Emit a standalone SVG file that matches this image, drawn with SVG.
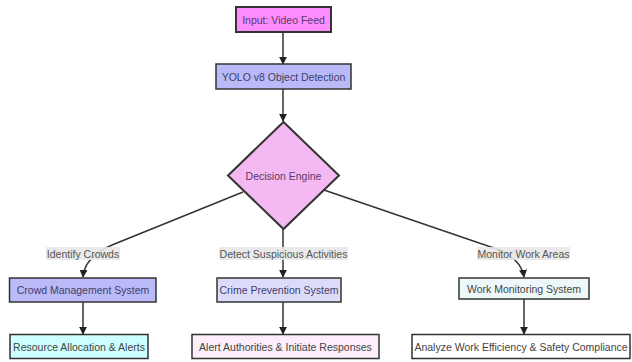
<svg xmlns="http://www.w3.org/2000/svg" width="632" height="362" viewBox="0 0 632 362">
<style>
  .box { stroke: #333; stroke-width: 1.5; }
  .thick { stroke: #333; stroke-width: 2; }
  .t { font-family: "Liberation Sans", Arial, sans-serif; font-size: 10.5px; text-anchor: middle; dominant-baseline: central; fill: #444; }
  .tp { fill: #5a3a66; }
  .tb { fill: #3f3f6a; }
  .lbl { fill: #e8e8e8; opacity: 0.9; }
  .lt { fill: #555; }
  .edge { fill: none; stroke: #333; stroke-width: 1.5; }
</style>
<defs>
  <marker id="arr" viewBox="0 0 10 10" refX="9" refY="5" markerWidth="8" markerHeight="8" markerUnits="userSpaceOnUse" orient="auto">
    <path d="M0,0 L10,5 L0,10 z" fill="#222"/>
  </marker>
</defs>
<rect width="632" height="362" fill="#fff"/>
<g id="connectors">
  <path class="edge" d="M283,32 L283,64" marker-end="url(#arr)"/>
  <path class="edge" d="M283,89 L283,121" marker-end="url(#arr)"/>
  <path class="edge" d="M243,192 L112,245 C96,252 84,262 83,277" marker-end="url(#arr)"/>
  <path class="edge" d="M283,229 L283,277" marker-end="url(#arr)"/>
  <path class="edge" d="M324,190 L488,246 C508,252 522,262 524,277" marker-end="url(#arr)"/>
  <path class="edge" d="M83,302 L83,334" marker-end="url(#arr)"/>
  <path class="edge" d="M283,302 L283,334" marker-end="url(#arr)"/>
  <path class="edge" d="M524,299 L524,334" marker-end="url(#arr)"/>
  <g id="edge-labels">
    <rect class="lbl" x="46" y="247" width="74" height="13"/>
    <text class="t lt" x="83" y="253.5">Identify Crowds</text>
    <rect class="lbl" x="219" y="247" width="129" height="13"/>
    <text class="t lt" x="283.5" y="253.5">Detect Suspicious Activities</text>
    <rect class="lbl" x="477" y="247" width="93" height="13"/>
    <text class="t lt" x="523.5" y="253.5">Monitor Work Areas</text>
  </g>
</g>
<g id="input">
  <rect class="thick" x="236" y="7" width="95" height="25" fill="#ff8cff"/>
  <text class="t tp" x="283.5" y="19.5">Input: Video Feed</text>
</g>
<g id="yolo">
  <rect class="box" x="216" y="64" width="135" height="25" fill="#babaf8"/>
  <text class="t tb" x="283.5" y="76.5">YOLO v8 Object Detection</text>
</g>
<g id="decision">
  <polygon class="thick" points="283.5,122 339,175.5 283.5,229 228,175.5" fill="#f4b8f2"/>
  <text class="t tp" x="283.5" y="175.5">Decision Engine</text>
</g>
<g id="crowd">
  <rect class="box" x="9.5" y="278" width="146.5" height="24" fill="#babaf8"/>
  <text class="t tb" x="83" y="290">Crowd Management System</text>
</g>
<g id="crime">
  <rect class="box" x="217" y="278" width="124" height="24" fill="#dcdcfa"/>
  <text class="t tb" x="279" y="290">Crime Prevention System</text>
</g>
<g id="work">
  <rect class="box" x="459" y="278" width="130" height="21" fill="#eef8fa"/>
  <text class="t" x="524" y="288.5">Work Monitoring System</text>
</g>
<g id="resource">
  <rect class="box" x="10" y="334.5" width="138" height="24" fill="#ccffff"/>
  <text class="t" x="79" y="346.5">Resource Allocation &amp; Alerts</text>
</g>
<g id="alert">
  <rect class="box" x="192" y="334.5" width="187" height="24" fill="#fdeefb"/>
  <text class="t" x="285.5" y="346.5">Alert Authorities &amp; Initiate Responses</text>
</g>
<g id="analyze">
  <rect class="box" x="412" y="334.5" width="218" height="24" fill="#ffffff"/>
  <text class="t" x="521" y="346.5">Analyze Work Efficiency &amp; Safety Compliance</text>
</g>
</svg>
